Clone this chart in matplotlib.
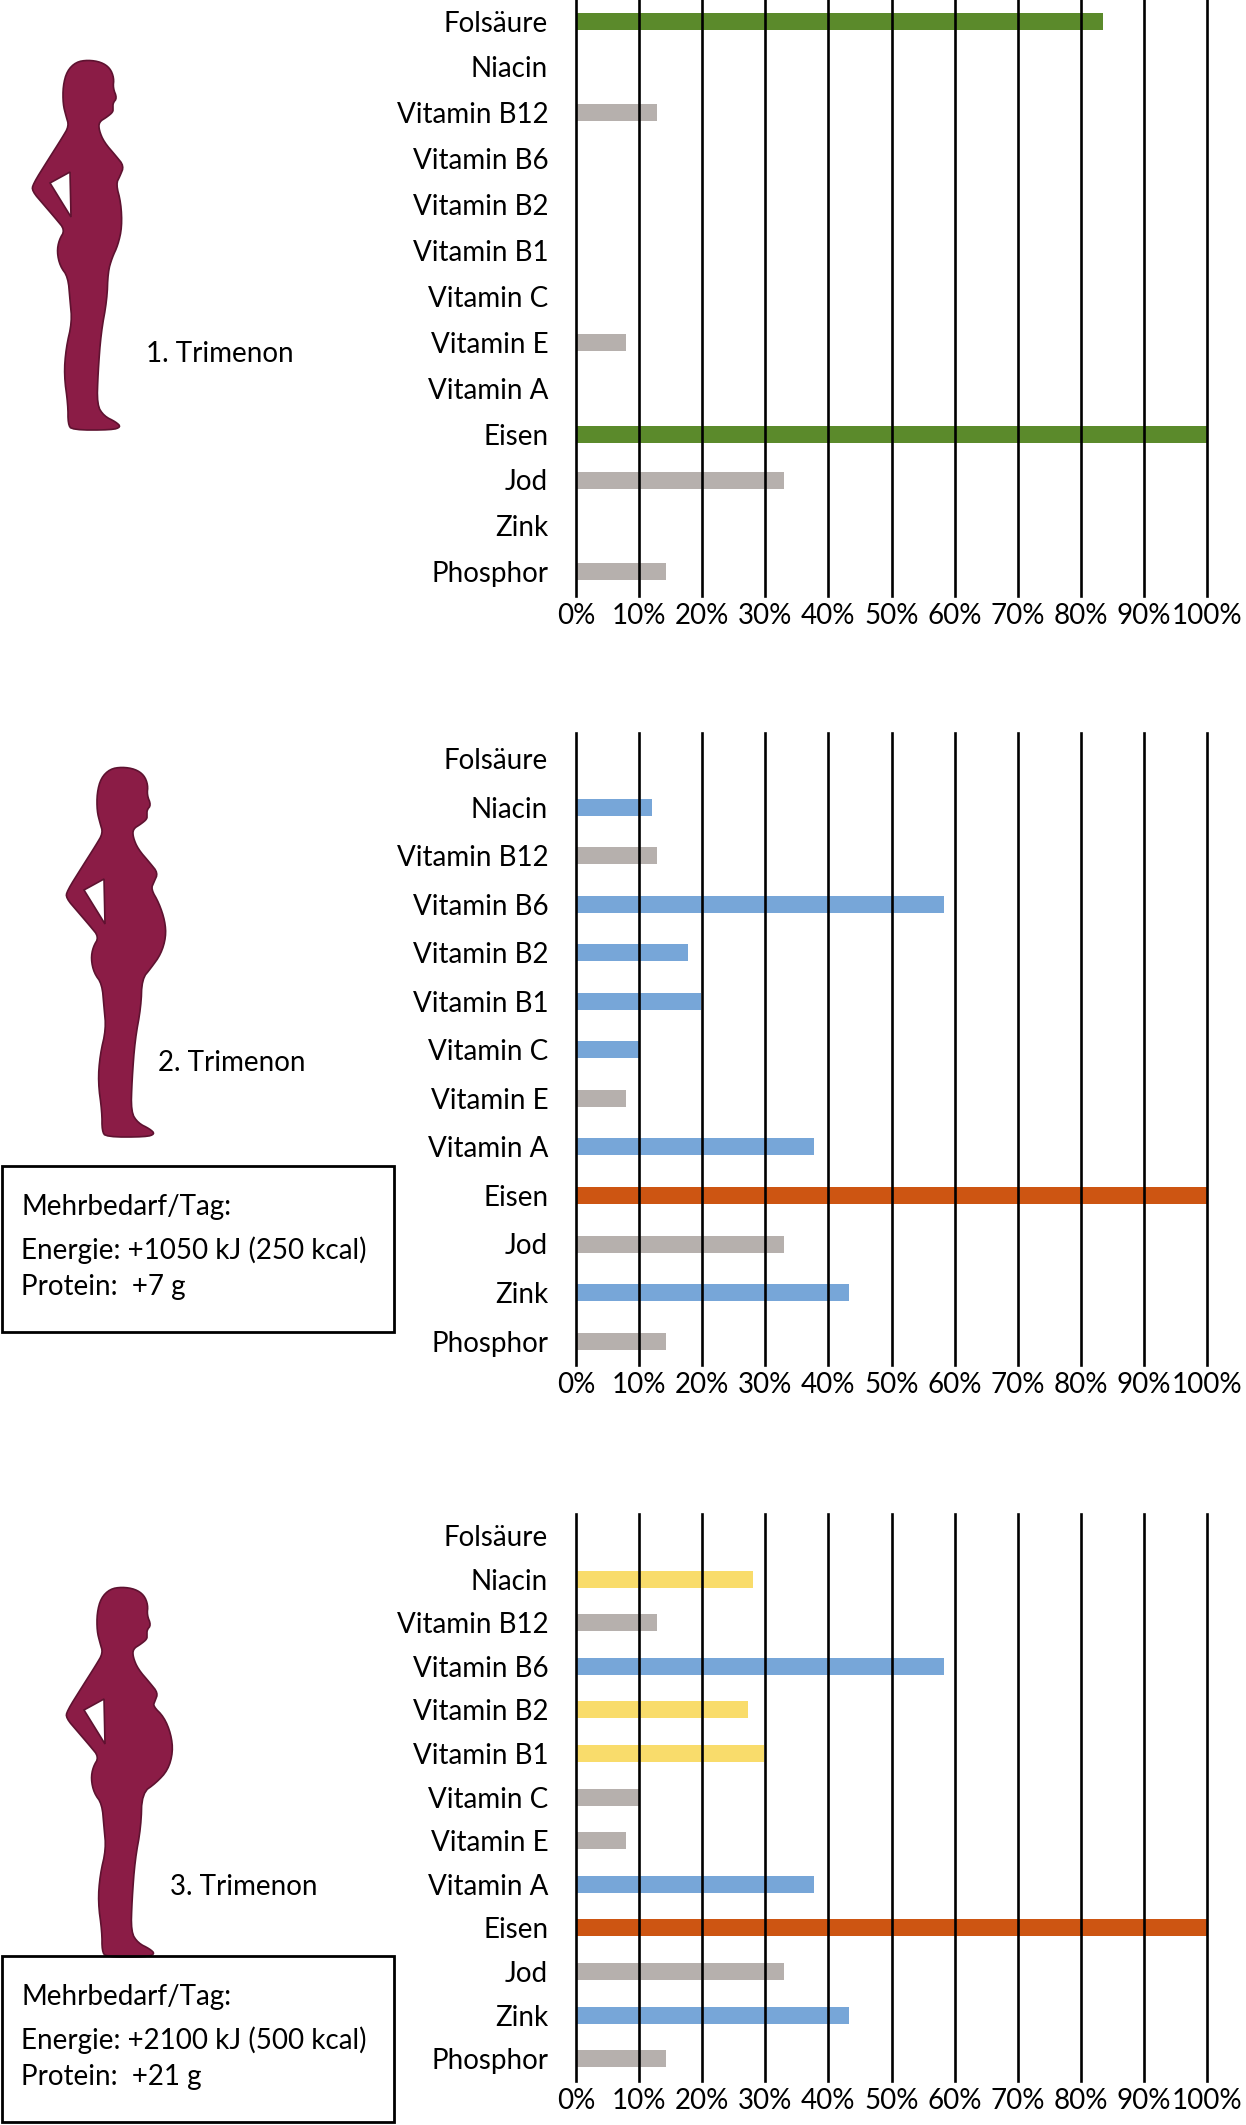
import matplotlib
matplotlib.use("Agg")
import matplotlib.pyplot as plt
from matplotlib.patches import Polygon, Rectangle
import numpy as np

plt.rcParams['font.family'] = ['Lato', 'DejaVu Sans']

# --- Daten ---
naehrstoffe = ["Folsäure", "Niacin", "Vitamin B12", "Vitamin B6", "Vitamin B2",
               "Vitamin B1", "Vitamin C", "Vitamin E", "Vitamin A", "Eisen",
               "Jod", "Zink", "Phosphor"]

werte_1 = [83.5, 0, 12.8, 0, 0, 0, 0, 8, 0, 100, 33, 0, 14.3]
werte_2 = [0, 12, 12.8, 58.3, 17.8, 19.8, 10.2, 8, 37.7, 100, 33, 43.2, 14.3]
werte_3 = [0, 28, 12.8, 58.3, 27.2, 29.8, 10.2, 8, 37.7, 100, 33, 43.2, 14.3]

GRUEN = "#5b8a2b"
GRAU = "#b6b0ad"
BLAU = "#77a6d8"
ORANGE = "#cd5512"
GELB = "#f9dc6b"

farben_1 = [GRUEN, GRAU, GRAU, GRAU, GRAU, GRAU, GRAU, GRAU, GRAU, GRUEN, GRAU, GRAU, GRAU]
farben_2 = [GRAU, BLAU, GRAU, BLAU, BLAU, BLAU, BLAU, GRAU, BLAU, ORANGE, GRAU, BLAU, GRAU]
farben_3 = [GRAU, GELB, GRAU, BLAU, GELB, GELB, GRAU, GRAU, BLAU, ORANGE, GRAU, BLAU, GRAU]

x_ticks = list(range(0, 101, 10))
x_labels = [f"{t}%" for t in x_ticks]

trimenon = ["1. Trimenon", "2. Trimenon", "3. Trimenon"]
mehrbedarf = [None,
              ["Mehrbedarf/Tag:", "Energie: +1050 kJ (250 kcal)", "Protein:  +7 g"],
              ["Mehrbedarf/Tag:", "Energie: +2100 kJ (500 kcal)", "Protein:  +21 g"]]

# --- Layout (Pixel) ---
W, H = 1246, 2125
X0, X1 = 576, 1207
# oben, unten, erste Kategorie, Abstand
panels = [(0, 596, 21, 45.9), (733, 1365, 758.5, 48.55), (1514, 2081, 1535.4, 43.6)]
sil_shift = [(0, 0), (34, 707), (34, 1527)]
label_pos = [(146, 354), (158, 1063), (170, 1887)]
box_top = [None, 1166, 1956]

FIGUR = "#8b1c46"
KANTE = "#5e1230"

fig = plt.figure(figsize=(W / 100, H / 100), dpi=100)
bg = fig.add_axes([0, 0, 1, 1])
bg.set_xlim(0, W)
bg.set_ylim(H, 0)
bg.axis("off")


def glatt(pts, n=2):
    p = np.asarray(pts, dtype=float)
    for _ in range(n):
        q = np.roll(p, -1, axis=0)
        p = np.vstack([0.75 * p + 0.25 * q, 0.25 * p + 0.75 * q]).reshape(2, -1, 2).transpose(1, 0, 2).reshape(-1, 2)
    return p


def silhouette(dx, dy, stufe):
    kopf = [(88, 60), (101, 62), (110, 68), (114, 78), (113, 88), (117, 98),
            (113, 103), (113, 108), (113, 112), (107, 117), (99, 122), (99, 130),
            (104, 142), (116, 156), (124, 166)]
    if stufe == 0:
        bauch = [(120, 176), (116, 184), (121, 203), (122, 227), (118, 245),
                 (112, 258), (108, 272)]
    elif stufe == 1:
        bauch = [(120, 175), (117, 182), (125, 196), (131, 214), (132, 230),
                 (127, 247), (117, 261), (108, 272)]
    else:
        bauch = [(121, 174), (119, 179), (130, 190), (137, 207), (139, 225),
                 (134, 243), (122, 256), (108, 266)]
    beine = [(107, 300), (101, 333), (98, 373), (97, 405), (104, 416), (116, 422),
             (121, 427), (112, 430), (72, 430), (68, 424), (68, 405), (64, 375),
             (66, 348), (72, 322), (70, 300), (68, 277), (60, 266), (57, 252),
             (59, 240), (65, 230), (56, 219), (44, 205), (32, 191), (33, 184),
             (48, 160), (62, 138), (69, 126), (66, 116), (63, 104), (63, 86),
             (67, 71), (76, 62)]
    pts = glatt(kopf + bauch + beine) + [dx, dy]
    bg.add_patch(Polygon(pts, closed=True, facecolor=FIGUR, edgecolor=KANTE, lw=1.2))
    loch = np.array([(50, 183), (70, 172), (71, 217)]) + [dx, dy]
    bg.add_patch(Polygon(loch, closed=True, facecolor="white", edgecolor=KANTE, lw=1.2))


for i, (werte, farben) in enumerate([(werte_1, farben_1), (werte_2, farben_2), (werte_3, farben_3)]):
    top, bottom, first, step = panels[i]
    ax = fig.add_axes([X0 / W, 1 - bottom / H, (X1 - X0) / W, (bottom - top) / H])
    pos = np.arange(len(naehrstoffe))
    ax.barh(pos, werte, height=17 / step, color=farben, zorder=2)
    for t in x_ticks:
        ax.axvline(t, color="black", lw=1.9, zorder=3, clip_on=False)
    ax.set_xlim(0, 100)
    y_top = -(first - top) / step
    y_bot = len(naehrstoffe) - 1 + (bottom - (first + (len(naehrstoffe) - 1) * step)) / step
    ax.set_ylim(y_bot, y_top)
    ax.set_yticks(pos)
    ax.set_yticklabels(naehrstoffe, fontsize=20)
    ax.set_xticks(x_ticks)
    ax.set_xticklabels(x_labels, fontsize=20)
    ax.tick_params(length=0)
    ax.tick_params(axis="y", pad=20)
    ax.tick_params(axis="x", pad=5)
    for s in ax.spines.values():
        s.set_visible(False)

    silhouette(*sil_shift[i], i)
    bg.text(label_pos[i][0], label_pos[i][1], trimenon[i], fontsize=20, va="center", ha="left")

    if mehrbedarf[i]:
        bt = box_top[i]
        bg.add_patch(Rectangle((2, bt), 392, 166, fill=False, edgecolor="black", lw=2))
        for zeile, off in zip(mehrbedarf[i], [41, 84, 121]):
            bg.text(21, bt + off, zeile, fontsize=20, va="center", ha="left")

fig.savefig("out.png", dpi=100)
